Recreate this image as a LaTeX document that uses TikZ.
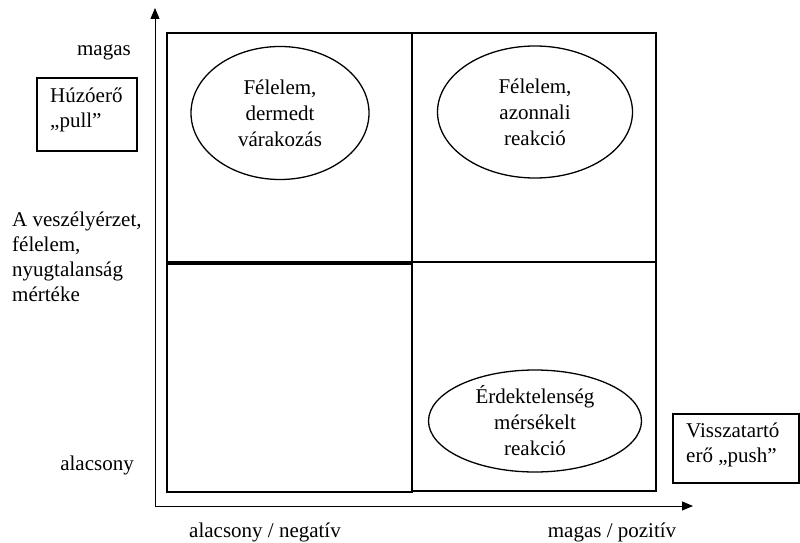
\documentclass[tikz,border=0pt]{standalone}
\usepackage{fontspec}
\setmainfont{Liberation Serif}
\usetikzlibrary{shapes.geometric,arrows.meta}
\begin{document}
\begin{tikzpicture}[x=1pt,y=-1pt,
  lbl/.style={font=\fontsize{21}{25}\selectfont, inner sep=0pt},
  quad/.style={draw, line width=1.3pt},
  oval/.style={draw, ellipse, line width=1.3pt, inner sep=0pt, align=center, font=\fontsize{21}{26}\selectfont},
  lbox/.style={draw, line width=1.3pt},
  axis/.style={line width=0.9pt, -{Triangle[length=11pt,width=9pt]}}]
\useasboundingbox (0,0) rectangle (800,543);
% axes
\coordinate (o) at (155,506);
\coordinate (ytip) at (155,8);
\coordinate (xtip) at (693,506);
\draw[axis] (o) -- (ytip);
\draw[axis] (o) -- (xtip);
% quadrants
\draw[quad] (167,33) rectangle (412,262);
\draw[quad] (412,33) rectangle (656,262);
\draw[quad] (412,262) rectangle (656,491);
\draw[quad] (167,264) rectangle (412,492);
% ellipses
\node[oval, minimum width=178pt, minimum height=133pt] (e1) at (280,113) {Félelem,\\dermedt\\várakozás};
\node[oval, minimum width=195pt, minimum height=132pt] (e2) at (535,112) {Félelem,\\azonnali\\reakció};
\node[oval, minimum width=213pt, minimum height=102pt] (e3) at (535,421) {Érdektelenség\\mérsékelt\\reakció};
% side boxes
\draw[lbox] (37,78) rectangle (137,151);
\node[lbl, anchor=west, align=left] (pull) at (50,110) {Húzóerő\\„pull”};
\draw[lbox] (673,414) rectangle (799,483);
\node[lbl, anchor=west, align=left] (push) at (686,445) {Visszatartó\\erő „push”};
% axis labels
\node[lbl, anchor=east] (magas) at (131,52) {magas};
\node[lbl, anchor=east] (alacs) at (134,465) {alacsony};
\node[lbl, anchor=west, align=left] (yl) at (12,257) {A veszélyérzet,\\félelem,\\nyugtalanság\\mértéke};
\node[lbl] (xl1) at (265,532) {alacsony / negatív};
\node[lbl] (xl2) at (612,532) {magas / pozitív};
\end{tikzpicture}
\end{document}
